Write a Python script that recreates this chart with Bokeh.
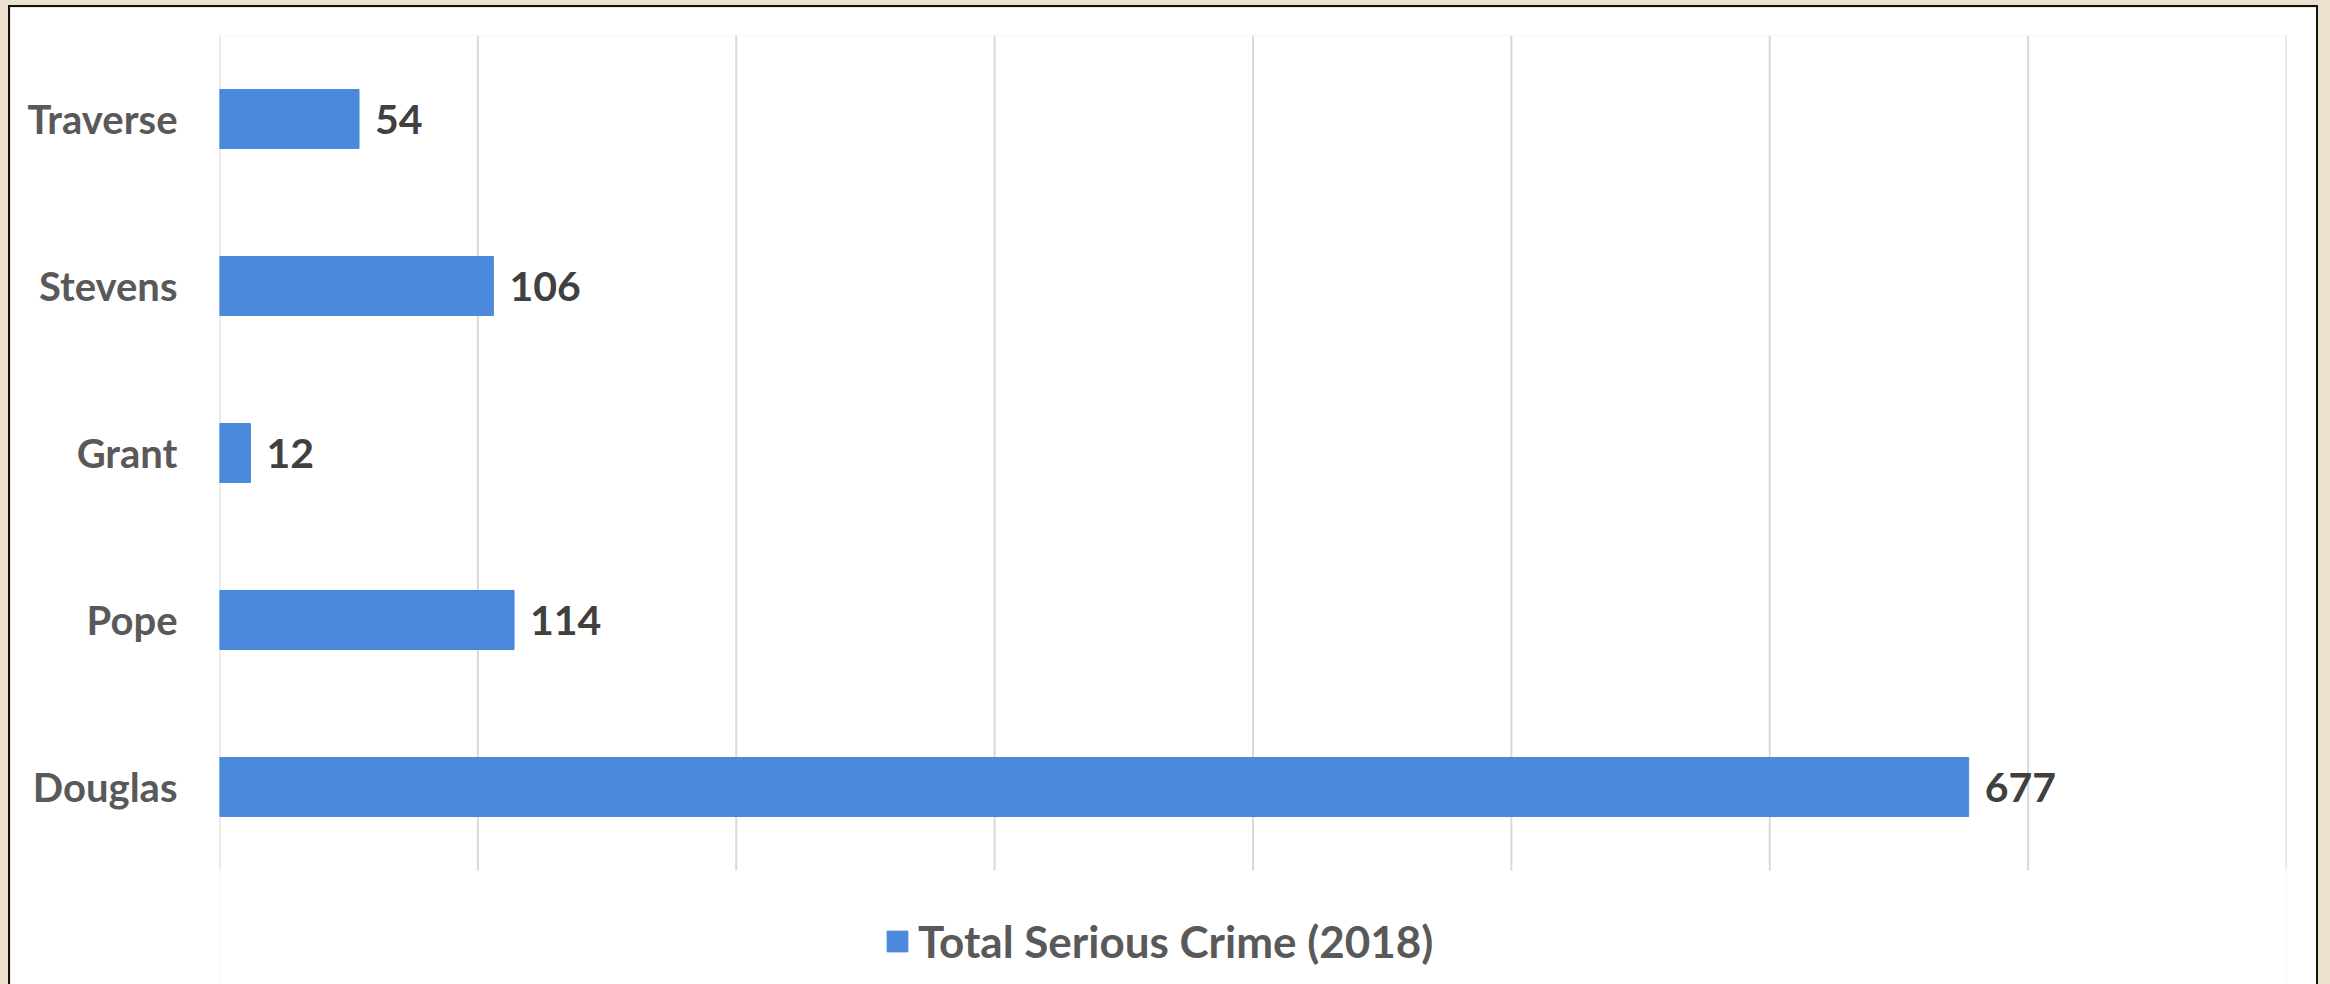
from bokeh.plotting import figure
from bokeh.models import ColumnDataSource, FixedTicker, Range1d, Legend, LegendItem
from bokeh.core.properties import value
from bokeh.embed import file_html
from bokeh.resources import INLINE

counties = ["Douglas", "Pope", "Grant", "Stevens", "Traverse"]
crimes = [677, 114, 12, 106, 54]
series_name = "Total Serious Crime (2018)"
x_ticks = [0, 100, 200, 300, 400, 500, 600, 700, 800]

pos = list(range(len(counties)))
src = ColumnDataSource(dict(pos=pos, county=counties, val=crimes, lbl=[str(v) for v in crimes]))
grid_src = ColumnDataSource(dict(x=x_ticks, y0=[pos[0] - 0.5] * len(x_ticks),
                                 y1=[pos[-1] + 0.5] * len(x_ticks)))

top = pos[-1] + 0.5
p = figure(frame_width=2067, frame_height=949, output_backend="svg", toolbar_location=None,
           y_range=Range1d(top - 949 / 167.0, top),
           x_range=Range1d(0, 800), x_axis_location=None,
           min_border_left=209, min_border_right=30, min_border_top=28, min_border_bottom=0,
           background_fill_color="white", border_fill_color="white")
p.styles = {"outline": "2px solid #111111", "margin-left": "10px", "margin-top": "7px"}
p.outline_line_color = None
p.xgrid.visible = False
p.ygrid.visible = False

p.segment(x0="x", y0="y0", x1="x", y1="y1", source=grid_src,
          line_color="#d9d9d9", line_width=2)

bars = p.hbar(y="pos", right="val", left=0, height=0.353, source=src,
              fill_color="#4a89dc", line_color="#4a89dc")
p.text(x="val", y="pos", text="lbl", source=src, x_offset=16,
       text_baseline="middle", text_align="left", text_color="#404040",
       text_font=value("Lato"), text_font_style="bold", text_font_size="41px")

ya = p.yaxis[0]
ya.ticker = FixedTicker(ticks=pos)
ya.major_label_overrides = {i: c for i, c in zip(pos, counties)}
ya.axis_line_color = None
ya.major_tick_line_color = None
ya.minor_tick_line_color = None
ya.major_tick_out = 0
ya.major_tick_in = 0
ya.major_label_standoff = 42
ya.major_label_text_font = "Lato"
ya.major_label_text_font_style = "bold"
ya.major_label_text_font_size = "40px"
ya.major_label_text_color = "#595959"

legend = Legend(items=[LegendItem(label=series_name, renderers=[bars])],
                orientation="horizontal", location=(665, 17),
                label_text_font="Lato", label_text_font_style="bold",
                label_text_font_size="44px", label_text_color="#595959",
                glyph_width=26, glyph_height=26, border_line_color=None,
                background_fill_alpha=0, margin=0, padding=4, spacing=0, label_standoff=8)
p.add_layout(legend, "center")

html = file_html(p, INLINE)
html = html.replace("</head>", "<style>html,body{background:#ece1cf !important;}</style></head>", 1)
open("out.html", "w").write(html)
